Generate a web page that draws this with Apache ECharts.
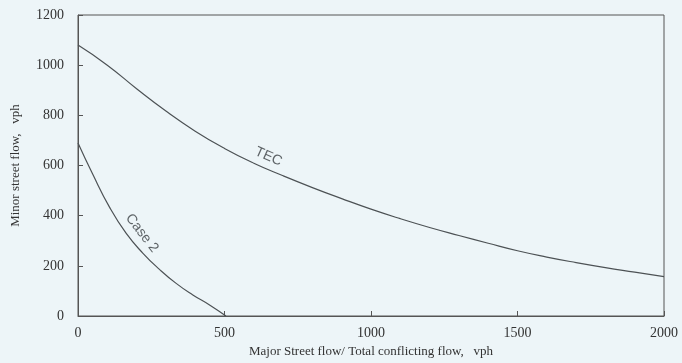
<!DOCTYPE html>
<html><head><meta charset="utf-8">
<script src="https://cdn.jsdelivr.net/npm/echarts@6/dist/echarts.min.js"></script>
<style>html,body{margin:0;padding:0;background:#edf5f8}#c{width:682px;height:363px}</style>
</head><body><div id="c"></div>
<script>
const tecX = [0, 100, 200, 300, 400, 500, 600, 700, 800, 900, 1000, 1100, 1200, 1300, 1400, 1500, 1600, 1700, 1800, 1900, 2000];
const tecY = [1080, 1000, 906, 817, 737, 668, 609, 559, 512, 468, 426, 388, 353, 321, 290, 260, 235, 213, 193, 175, 157];
const case2X = [0, 50, 107, 164, 221, 278, 335, 392, 449, 505];
const case2Y = [690, 566, 435, 330, 251, 186, 130, 84, 44, 0];
const xTicks = [0, 500, 1000, 1500, 2000];
const yTicks = [0, 200, 400, 600, 800, 1000, 1200];
const labels = [
  {name: 'TEC', x: 650, y: 635, rotate: -24},
  {name: 'Case 2', x: 218, y: 330, rotate: -52}
];

const lineColor = '#4d5255';
const chart = echarts.init(document.getElementById('c'), null, {renderer: 'canvas'});
chart.setOption({
  backgroundColor: '#edf5f8',
  animation: false,
  grid: {left: 78, right: 18, top: 15, bottom: 43, show: true, borderColor: '#555', borderWidth: 1, backgroundColor: 'transparent'},
  xAxis: {
    type: 'value', min: xTicks[0], max: xTicks[xTicks.length - 1], interval: 500,
    name: 'Major Street flow/ Total conflicting flow,   vph',
    nameLocation: 'middle', nameGap: 29,
    nameTextStyle: {fontFamily: 'Liberation Serif', fontSize: 13, color: '#333'},
    axisLine: {lineStyle: {color: '#555'}},
    axisTick: {inside: true, length: 5, lineStyle: {color: '#555'}},
    axisLabel: {fontFamily: 'Liberation Serif', fontSize: 14, color: '#333', margin: 10,
                formatter: v => String(v)},
    splitLine: {show: false}
  },
  yAxis: {
    type: 'value', min: yTicks[0], max: yTicks[yTicks.length - 1], interval: 200,
    name: 'Minor street flow,   vph',
    nameLocation: 'middle', nameGap: 56,
    nameTextStyle: {fontFamily: 'Liberation Serif', fontSize: 13, color: '#333'},
    axisLine: {lineStyle: {color: '#555'}},
    axisTick: {inside: true, length: 5, lineStyle: {color: '#555'}},
    axisLabel: {fontFamily: 'Liberation Serif', fontSize: 14, color: '#333', margin: 14,
                formatter: v => String(v)},
    splitLine: {show: false}
  },
  series: [
    {type: 'line', data: tecX.map((x, i) => [x, tecY[i]]), smooth: 0.5, symbol: 'none',
     lineStyle: {color: lineColor, width: 1.2}},
    {type: 'line', data: case2X.map((x, i) => [x, case2Y[i]]), smooth: 0.5, symbol: 'none',
     lineStyle: {color: lineColor, width: 1.2}},
    {type: 'scatter', symbolSize: 0, silent: true,
     data: labels.map(l => ({value: [l.x, l.y], name: l.name,
       label: {show: true, position: 'inside', formatter: l.name, rotate: l.rotate,
               fontFamily: 'Liberation Sans', fontSize: 14, color: '#3a3f42'}}))}
  ]
});
</script></body></html>
